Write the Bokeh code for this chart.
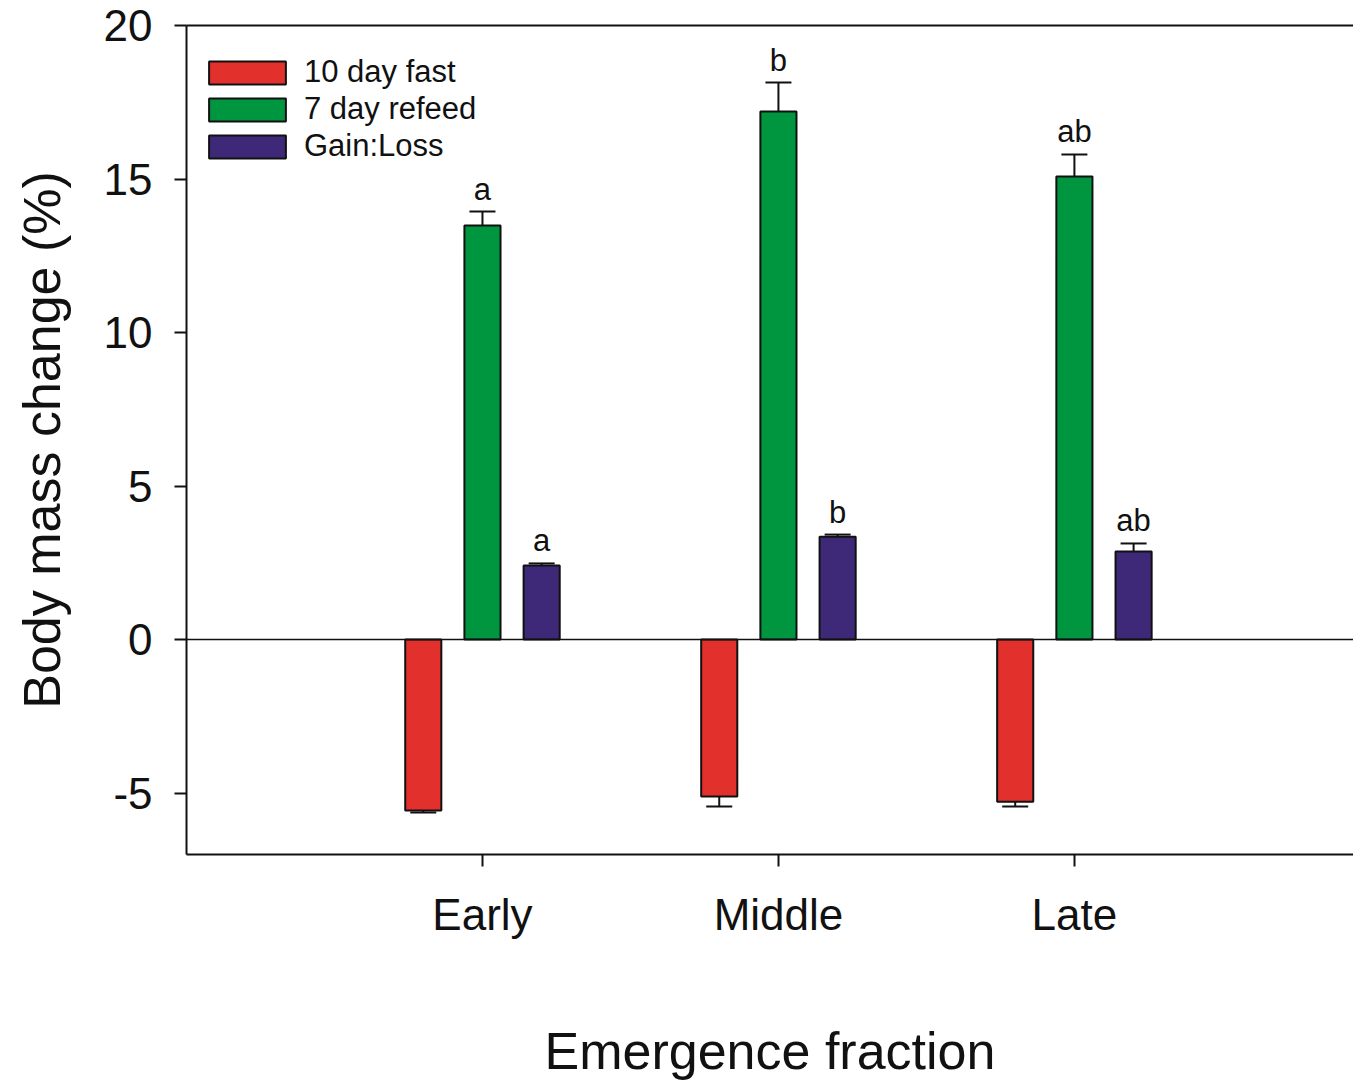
from bokeh.plotting import figure
from bokeh.models import (ColumnDataSource, Range1d, FixedTicker, LinearAxis, Span,
                          Whisker, TeeHead, Legend, LegendItem)
from bokeh.embed import file_html
from bokeh.resources import INLINE

# Body mass change (%) per emergence fraction
groups = ["Early", "Middle", "Late"]
fast = [-5.57, -5.11, -5.28]
fast_se = [0.06, 0.33, 0.16]
refeed = [13.49, 17.20, 15.08]
refeed_se = [0.45, 0.94, 0.72]
gain_loss = [2.41, 3.35, 2.87]
gain_loss_se = [0.07, 0.07, 0.26]
refeed_letters = ["a", "b", "ab"]
gain_loss_letters = ["a", "b", "ab"]
series_names = ["10 day fast", "7 day refeed", "Gain:Loss"]
y_ticks = [-5, 0, 5, 10, 15, 20]

FONT = "Liberation Sans"
COLORS = ["#E2312C", "#00953F", "#3E2878"]
OFFSETS = [-0.2, 0.0, 0.2]
BAR_W = 0.122

xpos = [i + 1 for i in range(len(groups))]

p = figure(width=1353, height=1084, output_backend="svg", toolbar_location=None,
           x_range=Range1d(0, 3.943), y_range=Range1d(-7, 20),
           min_border_left=186, min_border_right=0, min_border_top=25, min_border_bottom=230)
p.xgrid.visible = False
p.ygrid.visible = False
p.outline_line_color = None
p.background_fill_color = "white"
p.border_fill_color = "white"

series = [(fast, fast_se), (refeed, refeed_se), (gain_loss, gain_loss_se)]
renderers = []
for (vals, se), off, col in zip(series, OFFSETS, COLORS):
    xs = [x + off for x in xpos]
    ends = [v + s if v >= 0 else v - s for v, s in zip(vals, se)]
    src = ColumnDataSource(dict(x=xs, top=vals, end=ends))
    r = p.vbar(x="x", top="top", bottom=0, width=BAR_W, source=src,
               fill_color=col, line_color="#111111", line_width=2)
    renderers.append(r)
    pos = ColumnDataSource(dict(x=[x for x, v in zip(xs, vals) if v >= 0],
                                lo=[v for v in vals if v >= 0],
                                hi=[e for e, v in zip(ends, vals) if v >= 0]))
    neg = ColumnDataSource(dict(x=[x for x, v in zip(xs, vals) if v < 0],
                                lo=[e for e, v in zip(ends, vals) if v < 0],
                                hi=[v for v in vals if v < 0]))
    p.add_layout(Whisker(source=pos, base="x", lower="lo", upper="hi", line_width=2,
                         line_color="#111111", lower_head=None,
                         upper_head=TeeHead(size=26, line_width=2, line_color="#111111")))
    p.add_layout(Whisker(source=neg, base="x", lower="lo", upper="hi", line_width=2,
                         line_color="#111111", upper_head=None,
                         lower_head=TeeHead(size=26, line_width=2, line_color="#111111")))

# significance letters above the error bars
for vals, se, off, letters in [(refeed, refeed_se, OFFSETS[1], refeed_letters),
                               (gain_loss, gain_loss_se, OFFSETS[2], gain_loss_letters)]:
    src = ColumnDataSource(dict(x=[x + off for x in xpos],
                                y=[v + s for v, s in zip(vals, se)], t=letters))
    p.text(x="x", y="y", text="t", source=src, text_align="center",
           text_baseline="bottom", y_offset=-5, text_font_size="31px",
           text_font={"value": FONT}, text_color="#111111")

p.add_layout(Span(location=0, dimension="width", line_color="#111111", line_width=1.5))

# axes
for ax in (p.xaxis[0], p.yaxis[0]):
    ax.axis_line_width = 2
    ax.axis_line_color = "#111111"
    ax.major_tick_line_width = 2
    ax.major_tick_line_color = "#111111"
    ax.major_tick_in = 0
    ax.major_tick_out = 12
    ax.minor_tick_line_color = None
    ax.major_label_text_font = FONT
    ax.major_label_text_font_size = "44px"
    ax.major_label_text_color = "#111111"
    ax.axis_label_text_font = FONT
    ax.axis_label_text_font_size = "52px"
    ax.axis_label_text_font_style = "normal"
    ax.axis_label_text_color = "#111111"

p.xaxis.ticker = FixedTicker(ticks=xpos)
p.xaxis.major_label_overrides = {x: g for x, g in zip(xpos, groups)}
p.xaxis.major_label_standoff = 23
p.xaxis.axis_label = "Emergence fraction"
p.xaxis.axis_label_standoff = 80

p.yaxis.ticker = FixedTicker(ticks=y_ticks)
p.yaxis.major_label_overrides = {t: str(t) for t in y_ticks}
p.yaxis.major_label_standoff = 22
p.yaxis.axis_label = "Body mass change (%)"
p.yaxis.axis_label_standoff = 30

top_axis = LinearAxis(ticker=FixedTicker(ticks=[]), axis_line_width=2,
                      axis_line_color="#111111", major_tick_line_color=None,
                      minor_tick_line_color=None)
p.add_layout(top_axis, "above")

legend = Legend(items=[LegendItem(label=n, renderers=[r]) for n, r in zip(series_names, renderers)],
                location=(13, 690), glyph_width=96, glyph_height=29, label_text_font=FONT,
                label_text_font_size="31px", label_text_color="#111111", spacing=1,
                padding=0, margin=0, border_line_color=None, background_fill_alpha=0,
                label_standoff=9)
p.add_layout(legend)

open("out.html", "w").write(file_html(p, INLINE))
